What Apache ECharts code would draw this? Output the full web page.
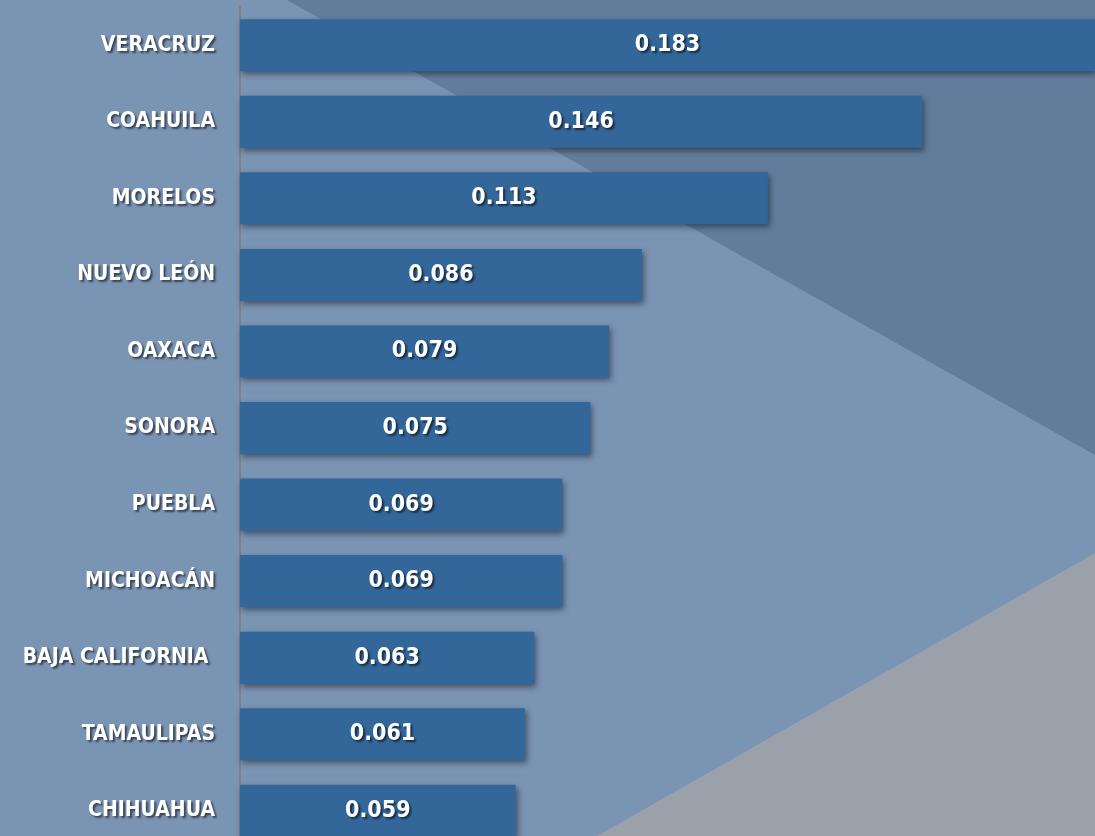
<!DOCTYPE html>
<html>
<head>
<meta charset="utf-8">
<script src="https://cdn.jsdelivr.net/npm/echarts@6/dist/echarts.min.js"></script>
<style>
    html, body { margin: 0; padding: 0; background: #7a94b4; overflow: hidden; }
    /* taller than the window: last band is cut off at the bottom like the original */
    #chart { width: 1095px; height: 856px; }
</style>
</head>
<body>
<div id="chart"></div>
<script>
const states = ['VERACRUZ', 'COAHUILA', 'MORELOS', 'NUEVO LEÓN', 'OAXACA', 'SONORA',
    'PUEBLA', 'MICHOACÁN', 'BAJA CALIFORNIA ', 'TAMAULIPAS', 'CHIHUAHUA'];
const values = [0.183, 0.146, 0.113, 0.086, 0.079, 0.075, 0.069, 0.069, 0.063, 0.061, 0.059];

const chart = echarts.init(document.getElementById('chart'));

const shadowText = {
    color: '#fff',
    fontWeight: 'bold',
    fontFamily: '"DejaVu Sans Condensed", "DejaVu Sans", sans-serif',
    fontSize: 23,
    textShadowColor: 'rgba(0,0,0,0.55)',
    textShadowBlur: 2,
    textShadowOffsetX: 2,
    textShadowOffsetY: 2
};

chart.setOption({
    backgroundColor: '#7a94b4',
    animation: false,
    graphic: [
        // darker wedge top right
        {
            type: 'polygon', z: -10, silent: true,
            shape: { points: [[287, 0], [1095, 0], [1095, 455]] },
            style: { fill: '#627d9c' }
        },
        // grey wedge bottom right
        {
            type: 'polygon', z: -10, silent: true,
            shape: { points: [[597, 836], [1095, 553], [1095, 836]] },
            style: { fill: '#9aa1aa' }
        }
    ],
    grid: { left: 240, right: 0, top: 7, height: 842, outerBoundsMode: 'none', containLabel: false },
    xAxis: {
        type: 'value',
        min: 0,
        max: 0.183,
        show: false
    },
    yAxis: {
        type: 'category',
        data: states,
        inverse: true,
        offset: 1,
        axisTick: { show: false },
        axisLine: { show: true, lineStyle: { color: '#808080', width: 2 } },
        axisLabel: Object.assign({}, shadowText, { margin: 24, fontSize: 21 })
    },
    series: [{
        type: 'bar',
        data: values,
        barWidth: 52,
        itemStyle: {
            color: '#336699',
            shadowColor: 'rgba(0,0,0,0.45)',
            shadowBlur: 6,
            shadowOffsetX: 2,
            shadowOffsetY: 3
        },
        label: Object.assign({
            show: true,
            position: 'inside',
            formatter: p => p.value.toFixed(3)
        }, shadowText)
    }]
});
</script>
</body>
</html>
